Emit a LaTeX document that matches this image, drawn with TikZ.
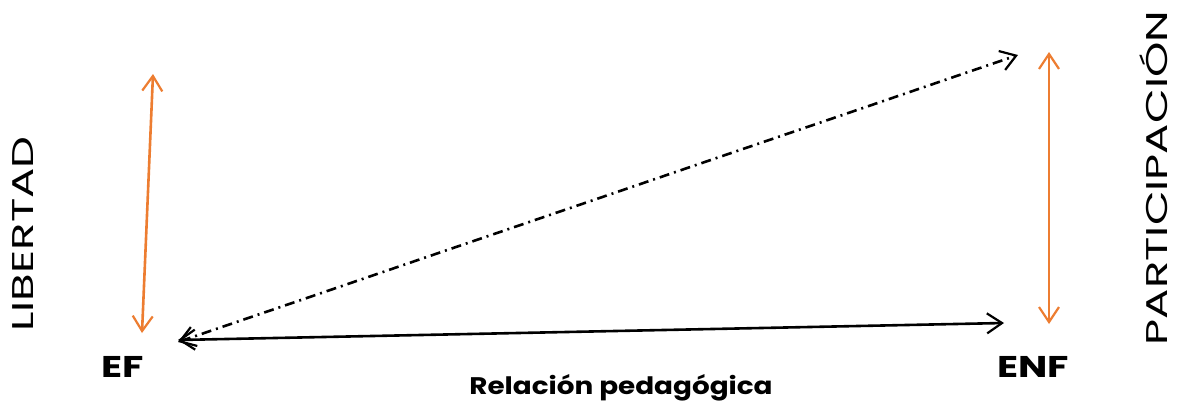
\documentclass[tikz,border=0pt]{standalone}
\usepackage{fontspec}
\setmainfont{Poppins}
\usetikzlibrary{arrows.meta}
\definecolor{orng}{HTML}{ED7D31}
\begin{document}
\begin{tikzpicture}[x=1pt,y=-1pt,
  oarrow/.style={draw=orng,line width=2.6pt,{Straight Barb[length=15pt,width=20pt,line width=2.2pt]}-{Straight Barb[length=15pt,width=20pt,line width=2.2pt]}},
  barrow/.style={draw=black,line width=2.6pt,{Straight Barb[length=15pt,width=20pt,line width=2.2pt]}-{Straight Barb[length=15pt,width=20pt,line width=2.2pt]}},
  vlabel/.style={rotate=90,anchor=base,font=\fontsize{30}{32}\selectfont,inner sep=0pt},
  blabel/.style={anchor=base,font=\bfseries\fontsize{30}{32}\selectfont,inner sep=0pt}]
\useasboundingbox[fill=white] (0,0) rectangle (1179,402);
\node[vlabel] (lib) at (34,234) {\scalebox{1.5}[1]{LIBERTAD}};
\node[vlabel] (par) at (1167,178) {\scalebox{1.5}[1]{PARTICIPACIÓN}};
\node[blabel] (ef) at (123,377) {\scalebox{1.3}[1]{EF}};
\node[blabel] (enf) at (1033,377) {\scalebox{1.3}[1]{ENF}};
\node[blabel,font=\bfseries\fontsize{24}{26}\selectfont] (rel) at (621,394) {\scalebox{1.16}[1]{Relación pedagógica}};
\coordinate (lt) at (153,74);
\coordinate (lb) at (142,333);
\coordinate (rt) at (1049,52);
\coordinate (rb) at (1049,324);
\coordinate (efs) at (178,340);
\coordinate (enfs) at (1004,323);
\coordinate (efd) at (178,342);
\coordinate (top) at (1018,55);
\draw[oarrow] (lt) -- (lb);
\draw[oarrow] (rt) -- (rb);
\draw[barrow] (efs) -- (enfs);
\draw[barrow,dash pattern=on 10pt off 5pt on 2pt off 5pt] (efd) -- (top);
\end{tikzpicture}
\end{document}
